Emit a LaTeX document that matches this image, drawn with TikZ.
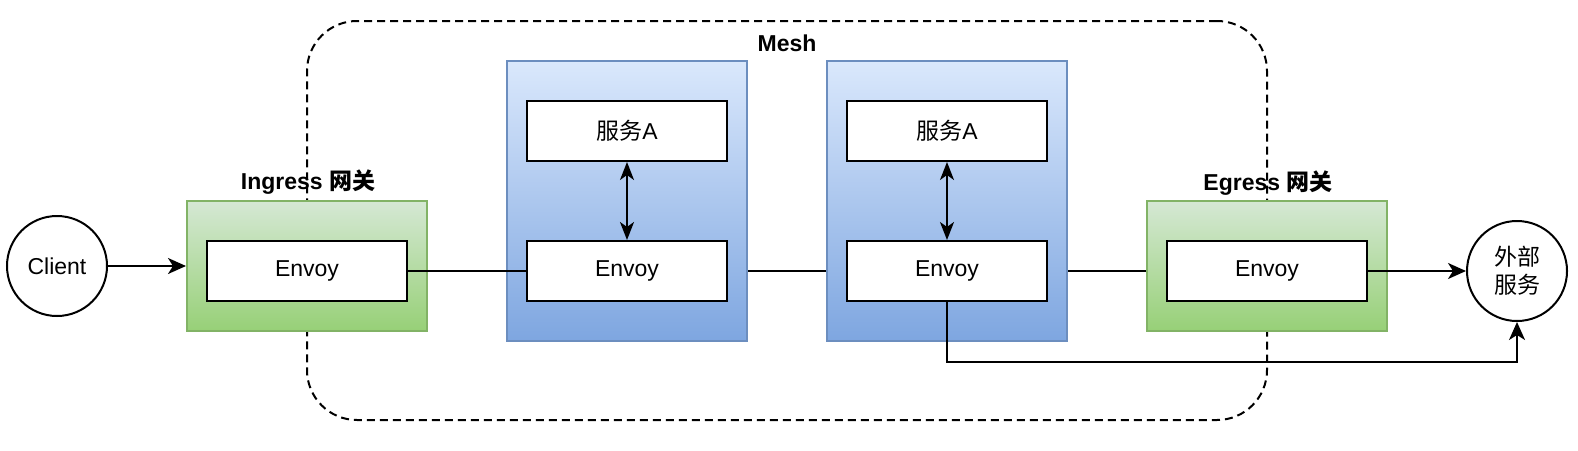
\documentclass[tikz,border=0pt]{standalone}
\usepackage{fontspec}
\setmainfont{Liberation Sans}
\newfontfamily\cjk{Noto Sans CJK SC}
\usetikzlibrary{arrows.meta,backgrounds}
\definecolor{gtop}{HTML}{D5E8D4}
\definecolor{gbot}{HTML}{97D077}
\definecolor{gline}{HTML}{82B366}
\definecolor{btop}{HTML}{DAE8FC}
\definecolor{bbot}{HTML}{7EA6E0}
\definecolor{bline}{HTML}{6C8EBF}
\tikzset{
  greenbox/.style={draw=gline, line width=1pt, top color=gtop, bottom color=gbot,
    minimum width=120pt, minimum height=65pt, inner sep=0pt},
  bluebox/.style={draw=bline, line width=1pt, top color=btop, bottom color=bbot,
    minimum width=120pt, minimum height=140pt, inner sep=0pt},
  whitebox/.style={draw=black, line width=1pt, fill=white,
    minimum width=100pt, minimum height=30pt, inner sep=0pt},
  roundnode/.style={circle, draw=black, line width=1pt, fill=white,
    minimum size=50pt, inner sep=0pt, align=center},
  meshbox/.style={draw=black, line width=1pt, dash pattern=on 4pt off 2.5pt,
    rounded corners=25pt, minimum width=480pt, minimum height=199.5pt, inner sep=0pt},
  titletext/.style={font=\fontsize{11.5}{14}\selectfont\bfseries, inner sep=0pt},
  link/.style={draw=black, line width=1pt},
  arr/.style={link, -{Stealth[length=9pt,width=8pt,inset=2.5pt]}},
  arrboth/.style={link, {Stealth[length=9pt,width=7pt,inset=2.5pt]}-{Stealth[length=9pt,width=7pt,inset=2.5pt]}},
}
\begin{document}
\begin{tikzpicture}[x=0.5pt,y=-0.5pt, font=\fontsize{11.5}{14}\selectfont]
\useasboundingbox (0,0) rectangle (1578,450);

% containers
\node[greenbox] (ingress) at (307,266) {};
\node[bluebox] (pod1) at (627,201) {};
\node[bluebox] (pod2) at (947,201) {};
\node[greenbox] (egress) at (1267,266) {};

% inner boxes
\node[whitebox] (ingenv) at (307,271) {Envoy};
\node[whitebox] (svc1) at (627,131) {{\cjk 服务}A};
\node[whitebox] (env1) at (627,271) {Envoy};
\node[whitebox] (svc2) at (947,131) {{\cjk 服务}A};
\node[whitebox] (env2) at (947,271) {Envoy};
\node[whitebox] (egenv) at (1267,271) {Envoy};

% circles
\node[roundnode] (client) at (57,266) {Client};
\node[roundnode] (ext) at (1517,271) {{\cjk 外部}\\{\cjk 服务}};

% background: mesh and hidden lines
\begin{scope}[on background layer]
  \node[meshbox] (mesh) at (787,220.5) {};
  \draw[link] (env1.east) -- (env2.west);
  \draw[link] (env2.east) -- (egenv.west);
\end{scope}

% titles
\node[titletext] (meshlbl) at (787,43) {Mesh};
\node[titletext] (inglbl) at (308,182) {Ingress {\cjk 网关}};
\node[titletext] (eglbl) at (1268,183) {Egress {\cjk 网关}};

% connectors
\draw[arr] (client) -- (ingress);
\draw[link] (ingenv.east) -- (env1.west);
\draw[arrboth] (svc1) -- (env1);
\draw[arrboth] (svc2) -- (env2);
\draw[arr] (egenv.east) -- (ext.west);
\draw[arr] (env2.south) -- ++(0,60) -| (ext.south);
\end{tikzpicture}
\end{document}
